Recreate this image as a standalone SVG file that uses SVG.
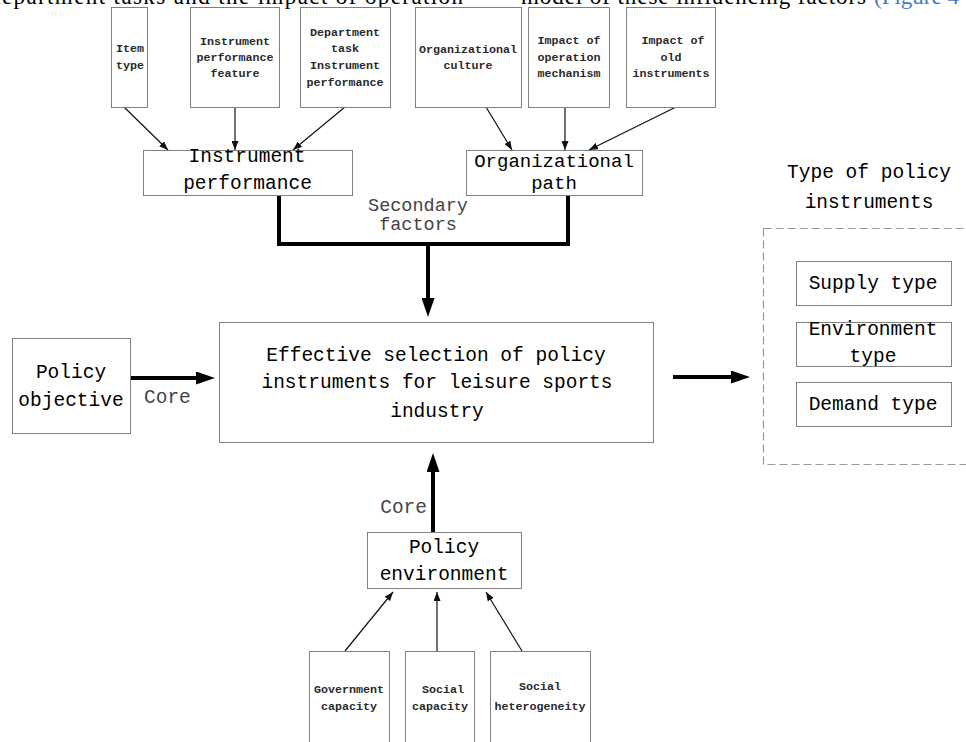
<svg xmlns="http://www.w3.org/2000/svg" width="966" height="742" viewBox="0 0 966 742">
<defs>
<style>
.box{fill:#fff;stroke:#808080;stroke-width:1}
.dash{fill:none;stroke:#999;stroke-width:1.2;stroke-dasharray:8 4}
.t{font-family:"Liberation Mono",monospace;font-size:19.5px;fill:#000;text-anchor:middle}
.t2{font-family:"Liberation Mono",monospace;font-size:19px;fill:#000;text-anchor:middle}
.s{font-family:"Liberation Mono",monospace;font-size:11.7px;font-weight:bold;fill:#2a2a2a;text-anchor:middle}
.g{font-family:"Liberation Mono",monospace;font-size:19.5px;fill:#444}
.g2{font-family:"Liberation Mono",monospace;font-size:18.5px;fill:#444;text-anchor:middle}
.thin{stroke:#111;stroke-width:1.2;fill:none;marker-end:url(#ah)}
.thick{stroke:#000;stroke-width:4;fill:none}
.thickA{stroke:#000;stroke-width:4;fill:none;marker-end:url(#bh)}
.page{font-family:"Liberation Serif",serif;font-size:23px;fill:#000}
</style>
<marker id="ah" markerUnits="userSpaceOnUse" markerWidth="9" markerHeight="7" refX="9" refY="3.5" orient="auto"><path d="M0,0 L9,3.5 L0,7 z" fill="#111"/></marker>
<marker id="bh" markerUnits="userSpaceOnUse" markerWidth="19" markerHeight="13" refX="0" refY="6.5" orient="auto"><path d="M0,0 L19,6.5 L0,13 z" fill="#000"/></marker>
</defs>
<rect width="966" height="742" fill="#fff"/>
<g id="page-text">
<text class="page" x="-11" y="4" textLength="474" lengthAdjust="spacing">department tasks and the impact of operation</text>
<text class="page" x="521" y="4" textLength="345" lengthAdjust="spacing">model of these influencing factors</text>
<text class="page" x="874" y="4" style="fill:#4a78c8">(Figure 4</text>
</g>
<g id="connectors">
<line class="thin" x1="124" y1="107" x2="168" y2="150"/>
<line class="thin" x1="235" y1="107" x2="235" y2="150"/>
<line class="thin" x1="345" y1="107" x2="293" y2="150"/>
<line class="thin" x1="486" y1="107" x2="512" y2="150"/>
<line class="thin" x1="565" y1="107" x2="565" y2="150"/>
<line class="thin" x1="676" y1="107" x2="589" y2="150"/>
<line class="thin" x1="345" y1="651" x2="393" y2="592"/>
<line class="thin" x1="437" y1="651" x2="437" y2="592"/>
<line class="thin" x1="522" y1="651" x2="486" y2="592"/>
<path class="thick" d="M279,196 V244 H568 V196"/>
<line class="thickA" x1="428" y1="244" x2="428" y2="298"/>
<line class="thickA" x1="130" y1="378" x2="196" y2="378"/>
<line class="thickA" x1="673" y1="377" x2="731" y2="377"/>
<line class="thickA" x1="433" y1="532" x2="433" y2="472"/>
<text class="g2" x="418" y="211">Secondary</text>
<text class="g2" x="418" y="230">factors</text>
<text class="g" x="144" y="403">Core</text>
<text class="g" x="427" y="513" text-anchor="end">Core</text>
</g>
<g id="n-item"><rect class="box" x="111.5" y="7.5" width="36" height="100"/><text class="s" x="130" y="52">Item</text><text class="s" x="130" y="69">type</text></g>
<g id="n-feature"><rect class="box" x="190.5" y="7.5" width="89" height="100"/><text class="s" x="235" y="45">Instrument</text><text class="s" x="235" y="61">performance</text><text class="s" x="235" y="77">feature</text></g>
<g id="n-dept"><rect class="box" x="300.5" y="7.5" width="90" height="100"/><text class="s" x="345" y="36">Department</text><text class="s" x="345" y="52">task</text><text class="s" x="345" y="69">Instrument</text><text class="s" x="345" y="86">performance</text></g>
<g id="n-culture"><rect class="box" x="415.5" y="7.5" width="106" height="100"/><text class="s" x="468" y="53">Organizational</text><text class="s" x="468" y="69">culture</text></g>
<g id="n-operation"><rect class="box" x="528.5" y="7.5" width="81" height="100"/><text class="s" x="569" y="44">Impact of</text><text class="s" x="569" y="61">operation</text><text class="s" x="569" y="77">mechanism</text></g>
<g id="n-old"><rect class="box" x="626.5" y="7.5" width="89" height="100"/><text class="s" x="673" y="44">Impact of</text><text class="s" x="671" y="61">old</text><text class="s" x="671" y="77">instruments</text></g>
<g id="n-instperf"><rect class="box" x="143.5" y="150.5" width="209" height="45"/><text class="t" x="247" y="162">Instrument</text><text class="t" x="247.5" y="189">performance</text></g>
<g id="n-orgpath"><rect class="box" x="466.5" y="150.5" width="176" height="45"/><text class="t2" x="554" y="167">Organizational</text><text class="t2" x="554" y="189">path</text></g>
<g id="n-objective"><rect class="box" x="12.5" y="338.5" width="118" height="95"/><text class="t" x="71" y="378">Policy</text><text class="t" x="71" y="406">objective</text></g>
<g id="n-main"><rect class="box" x="219.5" y="322.5" width="434" height="120"/><text class="t" x="436" y="361">Effective selection of policy</text><text class="t" x="437" y="388">instruments for leisure sports</text><text class="t" x="437" y="417">industry</text></g>
<g id="n-types">
<text class="t" x="869" y="178">Type of policy</text><text class="t" x="869" y="208">instruments</text>
<rect class="dash" x="763.5" y="228.5" width="230" height="236"/>
<g id="n-supply"><rect class="box" x="796.5" y="261.5" width="155" height="44"/><text class="t" x="873" y="289">Supply type</text></g>
<g id="n-envtype"><rect class="box" x="796.5" y="322.5" width="155" height="44"/><text class="t" x="873" y="335">Environment</text><text class="t" x="873" y="362">type</text></g>
<g id="n-demand"><rect class="box" x="796.5" y="382.5" width="155" height="44"/><text class="t" x="873" y="410">Demand type</text></g>
</g>
<g id="n-policyenv"><rect class="box" x="367.5" y="532.5" width="154" height="56"/><text class="t" x="444" y="553">Policy</text><text class="t" x="444" y="580">environment</text></g>
<g id="n-gov"><rect class="box" x="309.5" y="651.5" width="80" height="100"/><text class="s" x="349" y="693">Government</text><text class="s" x="349" y="710">capacity</text></g>
<g id="n-socialcap"><rect class="box" x="405.5" y="651.5" width="69" height="100"/><text class="s" x="443" y="693">Social</text><text class="s" x="440" y="710">capacity</text></g>
<g id="n-hetero"><rect class="box" x="490.5" y="651.5" width="100" height="100"/><text class="s" x="540" y="690">Social</text><text class="s" x="540" y="710">heterogeneity</text></g>
</svg>
